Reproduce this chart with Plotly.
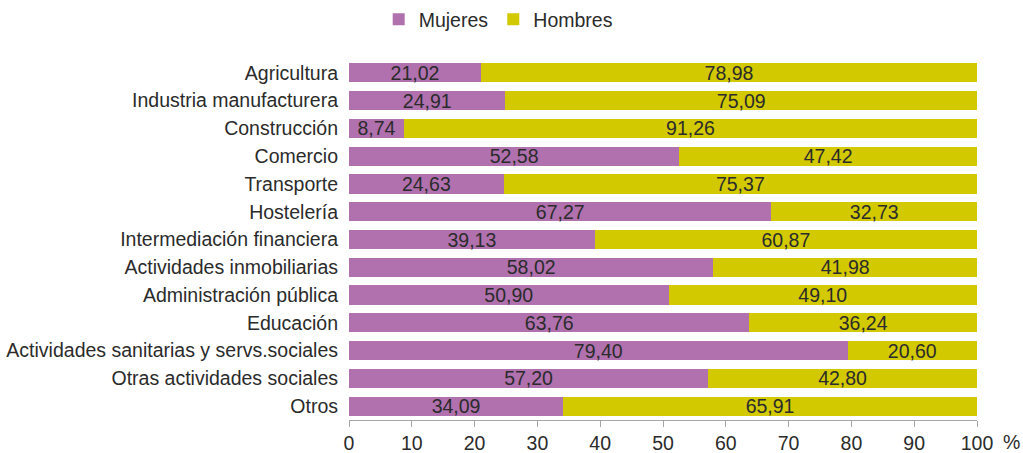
import plotly.graph_objects as go

sectores = [
    "Agricultura",
    "Industria manufacturera",
    "Construcción",
    "Comercio",
    "Transporte",
    "Hostelería",
    "Intermediación financiera",
    "Actividades inmobiliarias",
    "Administración pública",
    "Educación",
    "Actividades sanitarias y servs.sociales",
    "Otras actividades sociales",
    "Otros",
]
mujeres = [21.02, 24.91, 8.74, 52.58, 24.63, 67.27, 39.13, 58.02, 50.90, 63.76, 79.40, 57.20, 34.09]
hombres = [78.98, 75.09, 91.26, 47.42, 75.37, 32.73, 60.87, 41.98, 49.10, 36.24, 20.60, 42.80, 65.91]
x_ticks = [0, 10, 20, 30, 40, 50, 60, 70, 80, 90, 100]

FONT = "Liberation Sans, Arial, sans-serif"
TXT = "#2b2b2b"
FS = 19.5


def fmt(v):
    return f"{v:.2f}".replace(".", ",")


fig = go.Figure()
for name, vals, color in [("Mujeres", mujeres, "#B071AE"), ("Hombres", hombres, "#D2C900")]:
    fig.add_trace(go.Bar(
        name=name,
        y=sectores,
        x=vals,
        orientation="h",
        marker=dict(color=color, line=dict(width=0)),
        text=[fmt(v) for v in vals],
        textposition="inside",
        insidetextanchor="middle",
        constraintext="none",
        textfont=dict(family=FONT, size=FS, color=TXT),
        hoverinfo="skip",
    ))

fig.update_layout(
    barmode="stack",
    bargap=0.31,
    width=1023,
    height=453,
    margin=dict(l=349, r=46, t=59, b=33, autoexpand=False),
    paper_bgcolor="white",
    plot_bgcolor="white",
    font=dict(family=FONT, size=FS, color=TXT),
    separators=",.",
    showlegend=True,
    legend=dict(
        orientation="h",
        xref="container",
        yref="container",
        x=0.487,
        y=1.0,
        xanchor="center",
        yanchor="top",
        font=dict(family=FONT, size=FS, color=TXT),
        itemwidth=30,
        traceorder="normal",
    ),
    xaxis=dict(
        range=[0, 100],
        tickvals=x_ticks,
        ticktext=[str(t) for t in x_ticks],
        showgrid=False,
        zeroline=False,
        showline=True,
        linecolor="#a6a6a6",
        linewidth=1,
        ticks="outside",
        ticklen=6,
        tickcolor="#a6a6a6",
        tickfont=dict(family=FONT, size=FS, color=TXT),
    ),
    yaxis=dict(
        autorange="reversed",
        showgrid=False,
        zeroline=False,
        showline=False,
        ticks="",
        ticklabelstandoff=10,
        tickfont=dict(family=FONT, size=FS, color=TXT),
    ),
    annotations=[dict(
        text="%",
        xref="paper",
        yref="paper",
        x=1.0,
        y=0,
        xanchor="right",
        yanchor="middle",
        xshift=44,
        yshift=-22,
        borderpad=0,
        showarrow=False,
        font=dict(family=FONT, size=FS, color=TXT),
    )],
)

fig.write_html("out.html")
